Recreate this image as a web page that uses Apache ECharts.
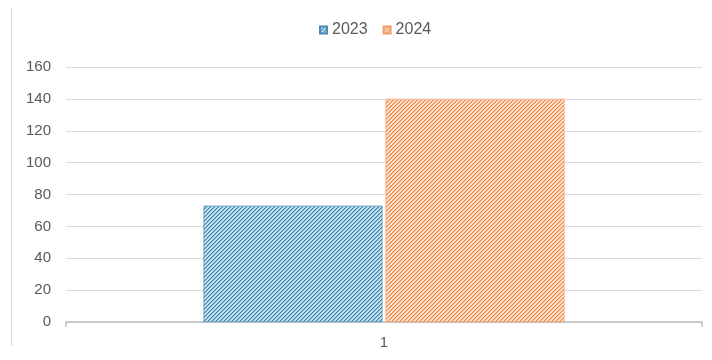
<!DOCTYPE html>
<html>
<head>
<meta charset="utf-8">
<script src="https://cdn.jsdelivr.net/npm/echarts@6/dist/echarts.min.js"></script>
<style>
  html, body { margin: 0; padding: 0; background: #ffffff; }
  #chart { width: 712px; height: 360px; }
</style>
</head>
<body>
<div id="chart"></div>
<script>
// Chart data
const categories = ['1'];
const seriesNames = ['2023', '2024'];
const values2023 = [73];
const values2024 = [140];
const yTicks = [0, 20, 40, 60, 80, 100, 120, 140, 160];

// Diagonal hatch fill ("/" stripes) built on a small canvas tile
function hatch(light, mid, dark) {
  const size = 8;
  const c = document.createElement('canvas');
  c.width = size; c.height = size;
  const ctx = c.getContext('2d');
  for (let y = 0; y < size; y++) {
    for (let x = 0; x < size; x++) {
      const k = (x + y) % 4;
      ctx.fillStyle = k === 0 ? dark : (k === 1 ? mid : light);
      ctx.fillRect(x, y, 1, 1);
    }
  }
  return { image: c, repeat: 'repeat' };
}

const blueFill = hatch('#c3e2f0', '#86bcd8', '#3a80aa');
const orangeFill = hatch('#fde3d2', '#f8b48a', '#ef8645');

const chart = echarts.init(document.getElementById('chart'), null, { renderer: 'canvas' });
chart.setOption({
  animation: false,
  backgroundColor: '#ffffff',
  textStyle: { fontFamily: 'Liberation Sans, Arial, sans-serif' },
  legend: {
    top: 17,
    left: 314,
    itemWidth: 7,
    itemHeight: 7,
    itemGap: 15,
    icon: 'rect',
    textStyle: { color: '#595959', fontSize: 16 },
    data: seriesNames
  },
  grid: { left: 66, right: 10, top: 67, bottom: 38 },
  xAxis: {
    type: 'category',
    data: categories,
    axisLine: { lineStyle: { color: '#bfbfbf', width: 1.5 } },
    axisTick: { show: true, length: 5, lineStyle: { color: '#bfbfbf', width: 1.5 } },
    axisLabel: { color: '#595959', fontSize: 15, margin: 13 }
  },
  yAxis: {
    type: 'value',
    min: yTicks[0],
    max: yTicks[yTicks.length - 1],
    interval: 20,
    axisLine: { show: false },
    axisTick: { show: false },
    axisLabel: { color: '#595959', fontSize: 15, margin: 15 },
    splitLine: { lineStyle: { color: '#d9d9d9', width: 1 } }
  },
  series: [
    {
      name: seriesNames[0],
      type: 'bar',
      data: values2023,
      barWidth: 179,
      barGap: '1.7%',
      itemStyle: { color: blueFill, borderColor: '#4a8ab0', borderWidth: 0.6 }
    },
    {
      name: seriesNames[1],
      type: 'bar',
      data: values2024,
      barWidth: 179,
      itemStyle: { color: orangeFill, borderColor: '#f29a66', borderWidth: 0.6 }
    }
  ],
  graphic: [
    {
      type: 'line',
      shape: { x1: 11.5, y1: 8, x2: 11.5, y2: 346 },
      style: { stroke: '#d9d9d9', lineWidth: 1 },
      silent: true
    }
  ]
});
</script>
</body>
</html>
